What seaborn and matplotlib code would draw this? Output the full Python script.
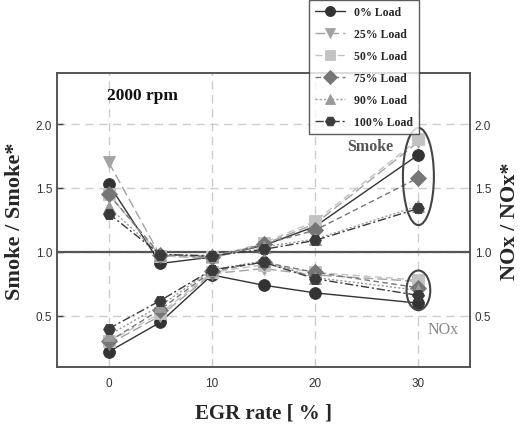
import numpy as np
import pandas as pd
import matplotlib
matplotlib.use("Agg")
import matplotlib.pyplot as plt
import seaborn as sns
from matplotlib.patches import Ellipse

# ---- data ----
egr = [0, 5, 10, 15, 20, 30]
loads = ["0% Load", "25% Load", "50% Load", "75% Load", "90% Load", "100% Load"]
smoke_0 = [1.53, 0.91, 0.96, 1.05, 1.20, 1.76]
smoke_25 = [1.70, 0.97, 0.95, 1.06, 1.22, 1.86]
smoke_50 = [1.45, 0.97, 0.96, 1.07, 1.24, 1.88]
smoke_75 = [1.45, 0.98, 0.96, 1.06, 1.17, 1.58]
smoke_90 = [1.35, 0.98, 0.97, 1.04, 1.10, 1.36]
smoke_100 = [1.30, 0.98, 0.97, 1.02, 1.09, 1.34]
nox_0 = [0.22, 0.45, 0.82, 0.74, 0.68, 0.60]
nox_25 = [0.28, 0.50, 0.83, 0.87, 0.82, 0.77]
nox_50 = [0.30, 0.52, 0.84, 0.90, 0.84, 0.78]
nox_75 = [0.30, 0.55, 0.85, 0.92, 0.84, 0.72]
nox_90 = [0.35, 0.58, 0.86, 0.93, 0.80, 0.70]
nox_100 = [0.40, 0.62, 0.86, 0.92, 0.79, 0.66]
y_ticks = [0.5, 1.0, 1.5, 2.0]
x_ticks = [0, 10, 20, 30]

smoke_sets = [smoke_0, smoke_25, smoke_50, smoke_75, smoke_90, smoke_100]
nox_sets = [nox_0, nox_25, nox_50, nox_75, nox_90, nox_100]

def long_df(sets):
    rows = []
    for lab, vals in zip(loads, sets):
        for x, v in zip(egr, vals):
            rows.append({"EGR": x, "val": v, "Load": lab})
    return pd.DataFrame(rows)

df_smoke = long_df(smoke_sets)
df_nox = long_df(nox_sets)

palette = {"0% Load": "#333333", "25% Load": "#a3a3a3", "50% Load": "#c2c2c2",
           "75% Load": "#767676", "90% Load": "#9a9a9a", "100% Load": "#3a3a3a"}
markers = {"0% Load": "o", "25% Load": "v", "50% Load": "s",
           "75% Load": "D", "90% Load": "^", "100% Load": "H"}
dashes = {"0% Load": "", "25% Load": (7, 3), "50% Load": (5, 3),
          "75% Load": (4, 2.5), "90% Load": (1.5, 1.5), "100% Load": (6, 2, 1.5, 2)}

sns.set_style("white")
serif = ["Liberation Serif", "DejaVu Serif"]
sans = ["Liberation Sans", "DejaVu Sans"]

fig = plt.figure(figsize=(5.24, 4.27), dpi=100)
ax = fig.add_axes([0.109, 0.138, 0.788, 0.689])

for d, show in ((df_smoke, True), (df_nox, False)):
    sns.lineplot(data=d, x="EGR", y="val", hue="Load", style="Load",
                 hue_order=loads, style_order=loads, palette=palette,
                 markers=markers, dashes=dashes, markersize=8.5,
                 markeredgewidth=0.6, linewidth=1.0, sort=False,
                 legend=show, ax=ax, zorder=3)

for ln in ax.lines:
    ln.set_markeredgecolor(ln.get_color())

ax.set_xlim(-5, 35)
ax.set_ylim(0.1, 2.4)
ax.set_xticks(x_ticks)
ax.set_yticks(y_ticks)
ax.set_xticklabels([str(t) for t in x_ticks])
ax.set_yticklabels([f"{t:.1f}" for t in y_ticks])
ax.grid(True, color="#cccccc", linestyle=(0, (6, 4)), linewidth=1.0)
ax.axhline(1.0, color="#555555", linewidth=1.6, zorder=2)
for s in ax.spines.values():
    s.set_color("#555555")
    s.set_linewidth(1.4)
ax.tick_params(axis="both", labelsize=8.5, colors="#444444", direction="in",
               length=4, width=1, labelcolor="#333333")
ax.tick_params(axis="x", pad=7)
for lab in ax.get_xticklabels() + ax.get_yticklabels():
    lab.set_family(sans)

ax.set_xlabel("EGR rate [ % ]", fontsize=15, fontweight="bold", family=serif, labelpad=10)
ax.set_ylabel("Smoke / Smoke*", fontsize=16, fontweight="bold", family=serif, labelpad=8)

ax2 = ax.twinx()
ax2.set_ylim(ax.get_ylim())
ax2.set_yticks(y_ticks)
ax2.set_yticklabels([f"{t:.1f}" for t in y_ticks])
ax2.tick_params(axis="y", labelsize=8.5, colors="#444444", direction="in",
                length=0, labelcolor="#333333")
for lab in ax2.get_yticklabels():
    lab.set_family(sans)
for s in ax2.spines.values():
    s.set_visible(False)
ax2.set_ylabel("NOx / NOx*", fontsize=16, fontweight="bold", family=serif, labelpad=6)

ax.add_patch(Ellipse((30, 1.59), 3.0, 0.76, fill=False, edgecolor="#444444", linewidth=1.5, zorder=4))
ax.add_patch(Ellipse((30, 0.70), 2.3, 0.31, fill=False, edgecolor="#444444", linewidth=1.5, zorder=4))

ax.text(-0.2, 2.23, "2000 rpm", fontsize=12.5, fontweight="bold", family=serif,
        color="#111111", ha="left", va="center")
ax.text(23.1, 1.83, "Smoke", fontsize=11.5, fontweight="bold", family=serif,
        color="#555555", ha="left", va="center")
ax.text(30.9, 0.40, "NOx", fontsize=11.5, family=serif,
        color="#888888", ha="left", va="center")

handles, labels = ax.get_legend_handles_labels()
for h in handles:
    h.set_markeredgecolor(h.get_color())
ax.get_legend().remove()
leg = fig.legend(handles, labels, loc="upper left", bbox_to_anchor=(0.585, 1.003),
                 frameon=True, fancybox=False, edgecolor="#333333",
                 prop={"family": serif, "weight": "bold", "size": 8.5},
                 handlelength=2.6, labelspacing=0.85, borderpad=0.5,
                 handletextpad=0.7, borderaxespad=0.2, markerscale=0.85)
leg.get_frame().set_linewidth(1.0)
leg.set_zorder(10)

fig.savefig("out.png", dpi=100)
